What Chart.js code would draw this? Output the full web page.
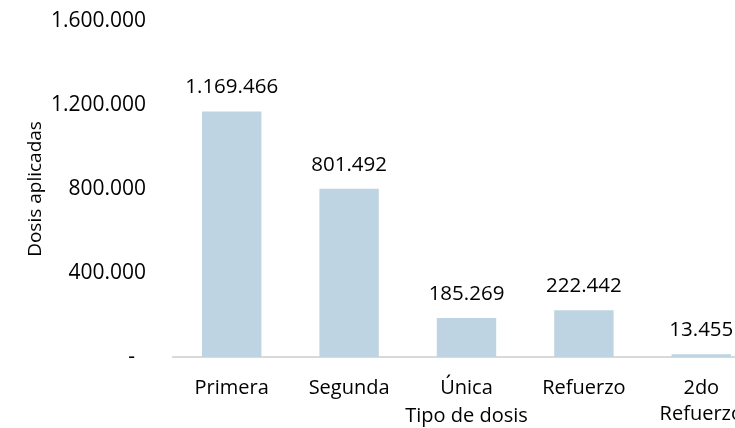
<!DOCTYPE html>
<html>
<head>
<meta charset="utf-8">
<script src="https://cdn.jsdelivr.net/npm/chart.js@4"></script>
<style>
  html, body { margin:0; padding:0; background:#fff; overflow:hidden; }
  #wrap { width:760px; height:428px; }
</style>
</head>
<body>
<div id="wrap"><canvas id="chart" width="760" height="428"></canvas></div>
<script>
// datos
const categorias = [['Primera'], ['Segunda'], ['Única'], ['Refuerzo'], ['2do', 'Refuerzo']];
const dosis = [1169466, 801492, 185269, 222442, 13455];
const yMax = 1600000;
const yPaso = 400000;

const FONT = "'Open Sans', sans-serif";

function fmt(n){
  return String(n).replace(/\B(?=(\d{3})+(?!\d))/g, '.');
}

// etiquetas encima de las barras
const etiquetas = {
  id: 'etiquetas',
  afterDatasetsDraw(chart){
    const { ctx } = chart;
    const meta = chart.getDatasetMeta(0);
    ctx.save();
    ctx.font = `20.5px ${FONT}`;
    ctx.fillStyle = '#000';
    ctx.textAlign = 'center';
    ctx.textBaseline = 'middle';
    meta.data.forEach((bar, i) => {
      ctx.fillText(fmt(dosis[i]), bar.x, bar.y - 24);
    });
    ctx.restore();
  }
};

new Chart(document.getElementById('chart'), {
  type: 'bar',
  data: {
    labels: categorias,
    datasets: [{
      data: dosis,
      backgroundColor: '#bfd4e3',
      borderWidth: 0,
      categoryPercentage: 1,
      barPercentage: 0.506
    }]
  },
  options: {
    responsive: false,
    animation: false,
    layout: { padding: { top: 21, right: 0, bottom: 0, left: 0 } },
    plugins: { legend: { display: false }, tooltip: { enabled: false } },
    scales: {
      x: {
        grid: { display: false, drawTicks: false },
        border: { display: true, color: '#d9d9d9', width: 2 },
        ticks: { color: '#000', font: { family: FONT, size: 20, lineHeight: 1.3 }, padding: 18, maxRotation: 0, autoSkip: false },
        title: { display: true, text: 'Tipo de dosis', color: '#000', font: { family: FONT, size: 20 }, padding: { top: -41, bottom: 0 } },
        afterFit(axis){ axis.height = 71; axis.paddingLeft = 0; axis.paddingRight = 0; }
      },
      y: {
        min: 0, max: yMax,
        grid: { display: false, drawTicks: false },
        border: { display: false },
        ticks: {
          stepSize: yPaso, color: '#000', font: { family: FONT, size: 21 }, padding: 27,
          callback: v => v === 0 ? '-  ' : fmt(v)
        },
        title: { display: true, text: 'Dosis aplicadas', color: '#000', font: { family: FONT, size: 19 }, padding: { top: 24, bottom: 0 } },
        afterFit(axis){ axis.width = 173; axis.paddingTop = 0; axis.paddingBottom = 0; }
      }
    }
  },
  plugins: [etiquetas]
});
</script>
</body>
</html>
